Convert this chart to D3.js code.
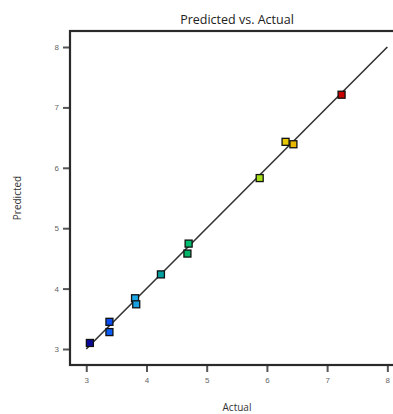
<!DOCTYPE html>
<html>
<head>
<meta charset="utf-8">
<script src="https://cdn.jsdelivr.net/npm/d3@7"></script>
<style>
  body { margin: 0; background: #fff; overflow: hidden; }
  svg { display: block; font-family: "Open Sans", "DejaVu Sans", sans-serif; }
</style>
</head>
<body>
<script>
// values
let actual    = [3.06, 3.385, 3.385, 3.81, 3.83, 4.24, 4.70, 4.68, 5.88, 6.31, 6.44, 7.24];
let predicted = [3.10, 3.45, 3.28, 3.84, 3.74, 4.235, 4.745, 4.58, 5.83, 6.43, 6.39, 7.21];
let colors    = ['#0a0a9a', '#0a4cf0', '#0a5af5', '#1aa8e8', '#18a0e0', '#00a0a0',
                 '#00c070', '#00b468', '#a6e01a', '#e8c800', '#e8b800', '#c80000'];
let ticks = [3, 4, 5, 6, 7, 8];
let title = 'Predicted vs. Actual', xLabel = 'Actual', yLabel = 'Predicted';

let width = 393, height = 414;
let padLeft = 70, padTop = 31, padBottom = 365;
let data = actual.map((a, i) => ({a: a, p: predicted[i], c: colors[i]}));

let svg = d3.select('body').append('svg')
    .attr('width', width)
    .attr('height', height);

let xScale = d3.scaleLinear().domain([2.73, 8.26]).range([padLeft, 403]);
let yScale = d3.scaleLinear().domain([2.735, 8.265]).range([padBottom, padTop]);

// axes
let xAxis = d3.axisBottom(xScale).tickValues(ticks).tickSize(7).tickPadding(5).tickFormat(d3.format('d'));
let yAxis = d3.axisLeft(yScale).tickValues(ticks).tickSize(7).tickPadding(4).tickFormat(d3.format('d'));

let gx = svg.append('g').attr('transform', 'translate(0,' + padBottom + ')').call(xAxis);
let gy = svg.append('g').attr('transform', 'translate(' + padLeft + ',0)').call(yAxis);
[gx, gy].forEach(g => {
    g.select('.domain').remove();
    g.selectAll('line').attr('stroke', '#555').attr('stroke-width', 2);
    g.selectAll('text').attr('fill', '#666').style('font-size', '8px');
});

// frame
svg.append('rect')
    .attr('x', padLeft)
    .attr('y', padTop)
    .attr('width', xScale(8.26) - padLeft)
    .attr('height', padBottom - padTop)
    .attr('fill', 'none')
    .attr('stroke', '#2a2a2a')
    .attr('stroke-width', 2.2);

// y = x line
svg.append('line')
    .attr('x1', xScale(3.0)).attr('y1', yScale(3.0))
    .attr('x2', xScale(8.0)).attr('y2', yScale(8.0))
    .attr('stroke', '#333')
    .attr('stroke-width', 1.6);

// points
svg.selectAll('rect.pt')
    .data(data)
    .enter()
    .append('rect')
    .attr('class', 'pt')
    .attr('x', d => xScale(d.a) - 3.5)
    .attr('y', d => yScale(d.p) - 3.5)
    .attr('width', 7)
    .attr('height', 7)
    .attr('fill', d => d.c)
    .attr('stroke', '#111')
    .attr('stroke-width', 1.3);

// title and labels
svg.append('text')
    .attr('x', 237)
    .attr('y', 24)
    .attr('text-anchor', 'middle')
    .attr('fill', '#222')
    .style('font-size', '12.5px')
    .text(title);

svg.append('text')
    .attr('x', 237)
    .attr('y', 411)
    .attr('text-anchor', 'middle')
    .attr('fill', '#333')
    .style('font-size', '10px')
    .text(xLabel);

svg.append('text')
    .attr('transform', 'translate(21,198) rotate(-90)')
    .attr('text-anchor', 'middle')
    .attr('fill', '#333')
    .style('font-size', '10px')
    .text(yLabel);
</script>
</body>
</html>
